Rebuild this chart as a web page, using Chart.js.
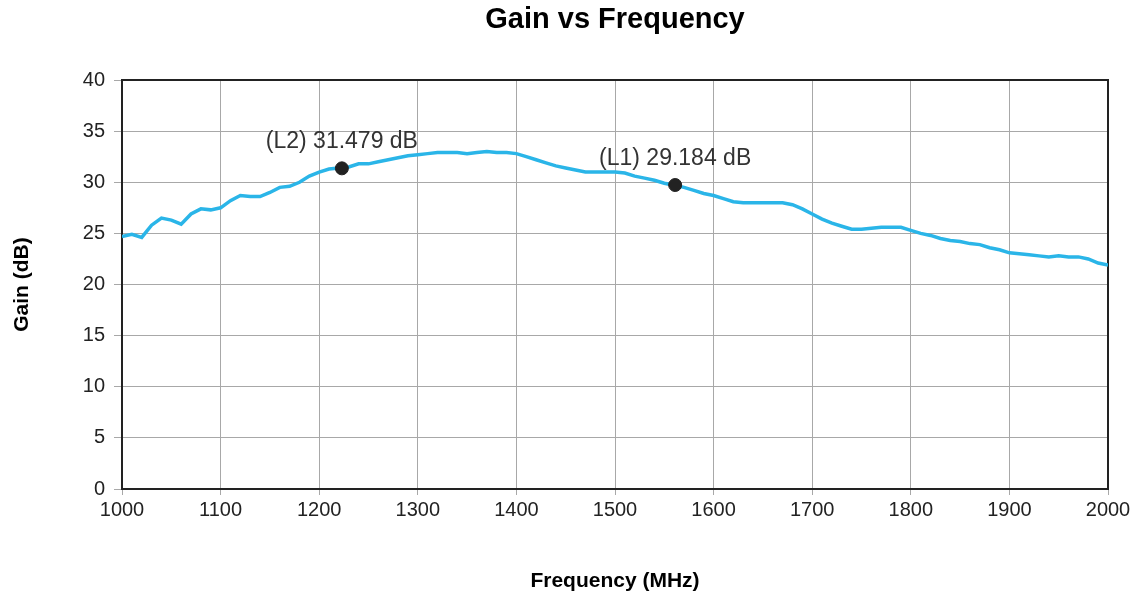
<!DOCTYPE html>
<html>
<head>
<meta charset="utf-8">
<title>Gain vs Frequency</title>
<script src="https://cdn.jsdelivr.net/npm/chart.js@4"></script>
<style>
  html, body { margin: 0; padding: 0; background: #fff; }
  #wrap { width: 1142px; height: 596px; }
</style>
</head>
<body>
<div id="wrap"><canvas id="chart" width="1142" height="596"></canvas></div>
<script>
'use strict';

const freqMHz = [
  1000, 1010, 1020, 1030, 1040, 1050, 1060, 1070, 1080, 1090,
  1100, 1110, 1120, 1130, 1140, 1150, 1160, 1170, 1180, 1190,
  1200, 1210, 1220, 1230, 1240, 1250, 1260, 1270, 1280, 1290,
  1300, 1310, 1320, 1330, 1340, 1350, 1360, 1370, 1380, 1390,
  1400, 1410, 1420, 1430, 1440, 1450, 1460, 1470, 1480, 1490,
  1500, 1510, 1520, 1530, 1540, 1550, 1560, 1570, 1580, 1590,
  1600, 1610, 1620, 1630, 1640, 1650, 1660, 1670, 1680, 1690,
  1700, 1710, 1720, 1730, 1740, 1750, 1760, 1770, 1780, 1790,
  1800, 1810, 1820, 1830, 1840, 1850, 1860, 1870, 1880, 1890,
  1900, 1910, 1920, 1930, 1940, 1950, 1960, 1970, 1980, 1990,
  2000
];
const gainDb = [
  24.7, 24.9, 24.6, 25.8, 26.5, 26.3, 25.9, 26.9, 27.4, 27.3,
  27.5, 28.2, 28.7, 28.6, 28.6, 29.0, 29.5, 29.6, 30.0, 30.6,
  31.0, 31.3, 31.4, 31.5, 31.8, 31.8, 32.0, 32.2, 32.4, 32.6,
  32.7, 32.8, 32.9, 32.9, 32.9, 32.8, 32.9, 33.0, 32.9, 32.9,
  32.8, 32.5, 32.2, 31.9, 31.6, 31.4, 31.2, 31.0, 31.0, 31.0,
  31.0, 30.9, 30.6, 30.4, 30.2, 29.9, 29.7, 29.5, 29.2, 28.9,
  28.7, 28.4, 28.1, 28.0, 28.0, 28.0, 28.0, 28.0, 27.8, 27.4,
  26.9, 26.4, 26.0, 25.7, 25.4, 25.4, 25.5, 25.6, 25.6, 25.6,
  25.3, 25.0, 24.8, 24.5, 24.3, 24.2, 24.0, 23.9, 23.6, 23.4,
  23.1, 23.0, 22.9, 22.8, 22.7, 22.8, 22.7, 22.7, 22.5, 22.1,
  21.9
];

// Markers
const markerFreq = [1223, 1561];
const markerGain = [31.36, 29.73];
const markerLabels = ['(L2) 31.479 dB', '(L1) 29.184 dB'];

const FONT = "'Liberation Sans', Arial, Helvetica, sans-serif";

const trace = freqMHz.map((f, i) => ({ x: f, y: gainDb[i] }));
const markers = markerFreq.map((f, i) => ({ x: f, y: markerGain[i] }));

// Closed frame around the plot area
const framePlugin = {
  id: 'frame',
  beforeDatasetsDraw(chart) {
    const { ctx, chartArea: a } = chart;
    ctx.save();
    ctx.strokeStyle = '#222';
    ctx.lineWidth = 2;
    ctx.strokeRect(a.left, a.top, a.right - a.left, a.bottom - a.top);
    ctx.restore();
  }
};

// Text above each marker
const markerLabelPlugin = {
  id: 'markerLabels',
  afterDatasetsDraw(chart) {
    const { ctx } = chart;
    const meta = chart.getDatasetMeta(1);
    ctx.save();
    ctx.font = `23px ${FONT}`;
    ctx.fillStyle = '#333';
    ctx.textAlign = 'center';
    ctx.textBaseline = 'alphabetic';
    meta.data.forEach((pt, i) => {
      ctx.fillText(markerLabels[i], pt.x, pt.y - 20);
    });
    ctx.restore();
  }
};

new Chart(document.getElementById('chart'), {
  type: 'scatter',
  data: {
    datasets: [
      {
        label: 'Gain',
        data: trace,
        showLine: true,
        borderColor: '#2ab5e8',
        borderWidth: 3.5,
        pointRadius: 0,
        tension: 0,
        order: 2,
      },
      {
        label: 'Markers',
        data: markers,
        showLine: false,
        pointRadius: 6.5,
        pointBackgroundColor: '#222',
        pointBorderColor: '#222',
        order: 1,
      }
    ]
  },
  options: {
    responsive: false,
    animation: false,
    layout: { padding: { left: 0, right: 34, top: 0, bottom: 0 } },
    plugins: {
      legend: { display: false },
      tooltip: { enabled: false },
      title: {
        display: true,
        fullSize: false, // centre over the plot area
        text: 'Gain vs Frequency',
        color: '#000',
        font: { family: FONT, size: 29, weight: 'bold' },
        padding: { top: 3, bottom: 42.2 },
      },
    },
    scales: {
      x: {
        type: 'linear',
        min: 1000,
        max: 2000,
        ticks: {
          stepSize: 100,
          color: '#222',
          font: { family: FONT, size: 20 },
          padding: 3,
          maxRotation: 0,
          callback: v => String(v),
        },
        grid: { color: '#a8a8a8', lineWidth: 1, tickLength: 6 },
        border: { display: true, color: '#222', width: 2 },
        title: {
          display: true,
          text: 'Frequency (MHz)',
          color: '#000',
          font: { family: FONT, size: 21, weight: 'bold' },
          padding: { top: 0, bottom: 2.4 },
        },
        afterFit(scale) { scale.height = 107; },
      },
      y: {
        min: 0,
        max: 40,
        ticks: {
          stepSize: 5,
          color: '#222',
          font: { family: FONT, size: 20 },
          padding: 9,
          callback: v => String(v),
        },
        grid: { color: '#a8a8a8', lineWidth: 1, tickLength: 8 },
        border: { display: true, color: '#222', width: 2 },
        title: {
          display: true,
          text: 'Gain (dB)',
          color: '#000',
          font: { family: FONT, size: 21, weight: 'bold' },
          padding: { top: 9.4, bottom: 0 },
        },
        afterFit(scale) { scale.width = 122; },
      },
    },
  },
  plugins: [framePlugin, markerLabelPlugin],
});
</script>
</body>
</html>
